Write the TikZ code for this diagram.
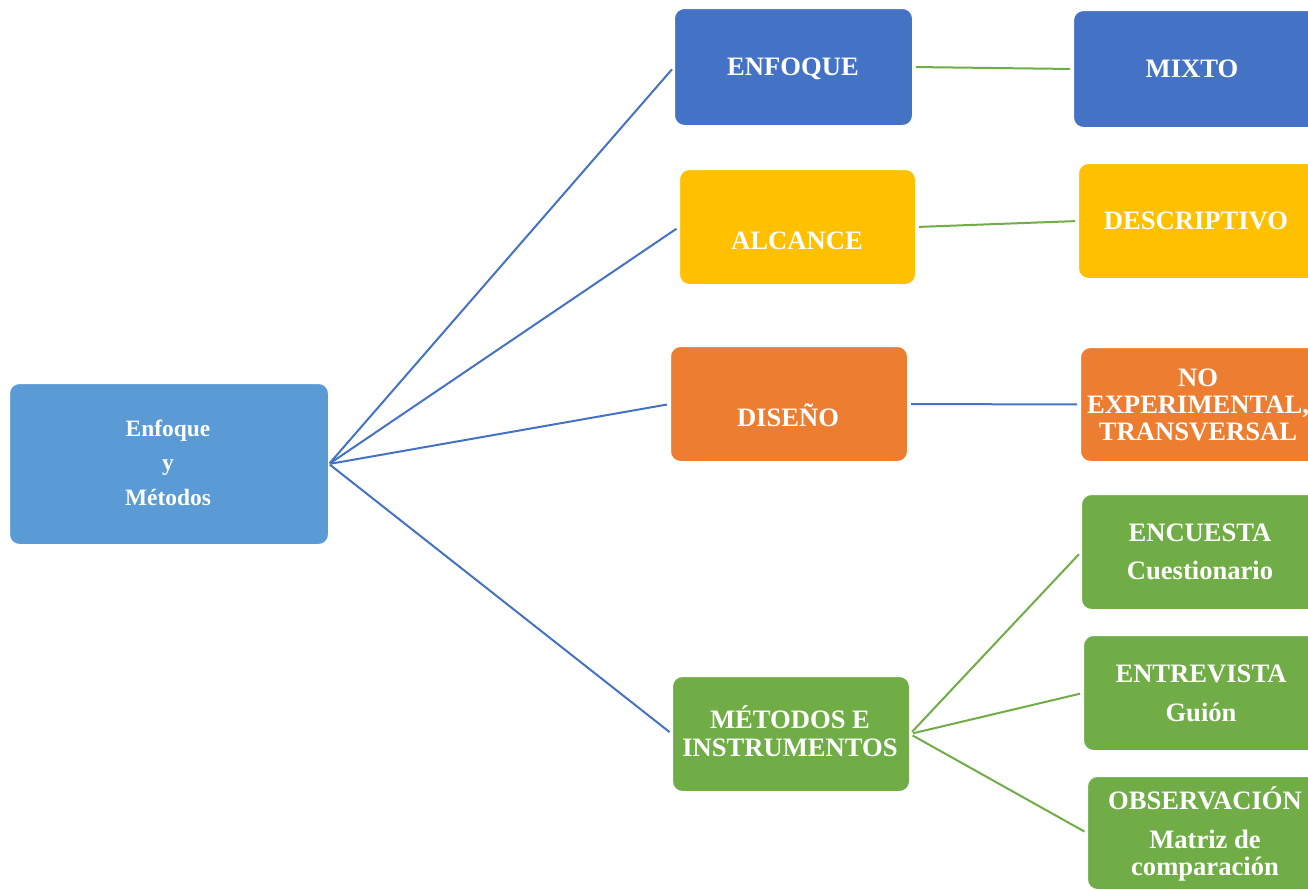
\documentclass[tikz,border=0pt]{standalone}
\usepackage{fontspec}
\setmainfont{Liberation Serif}
\definecolor{cblue}{HTML}{4472C4}
\definecolor{clight}{HTML}{5B9BD5}
\definecolor{cyellow}{HTML}{FFC000}
\definecolor{corange}{HTML}{ED7D31}
\definecolor{cgreen}{HTML}{70AD47}
\tikzset{
  box/.style={anchor=north west, inner sep=0pt, rounded corners=10pt,
              draw=white, line width=1pt, fill=#1},
  lbl/.style={anchor=base, text=white, inner sep=0pt,
              font=\bfseries\fontsize{26.6}{28}\selectfont},
  small/.style={lbl, font=\bfseries\fontsize{23.4}{26}\selectfont},
  link/.style={line width=2pt, #1, shorten <=3pt, shorten >=3pt},
}
\begin{document}
\begin{tikzpicture}[x=1pt, y=-1pt]
\useasboundingbox (0,0) rectangle (1308,889);
\clip (0,0) rectangle (1308,889);
\fill[white] (0,0) rectangle (1308,889);

% boxes
\node[box=clight, minimum width=319pt, minimum height=161pt] (root) at (9,383) {};
\node[box=cblue, minimum width=238pt, minimum height=117pt] (enfoque) at (674,8) {};
\node[box=cblue, minimum width=250pt, minimum height=117pt] (mixto) at (1073,10) {};
\node[box=cyellow, minimum width=236pt, minimum height=115pt] (alcance) at (679,169) {};
\node[box=cyellow, minimum width=250pt, minimum height=115pt] (descriptivo) at (1078,163) {};
\node[box=corange, minimum width=237pt, minimum height=115pt] (diseno) at (670,346) {};
\node[box=corange, minimum width=250pt, minimum height=114pt] (noexp) at (1080,347) {};
\node[box=cgreen, minimum width=237pt, minimum height=115pt] (metodos) at (672,676) {};
\node[box=cgreen, minimum width=250pt, minimum height=115pt] (encuesta) at (1081,494) {};
\node[box=cgreen, minimum width=250pt, minimum height=115pt] (entrevista) at (1083,635) {};
\node[box=cgreen, minimum width=250pt, minimum height=113pt] (observacion) at (1087,776) {};

% labels
\node[small] (t-root1) at (168,436) {Enfoque};
\node[small] (t-root2) at (168,470) {y};
\node[small] (t-root3) at (168,505) {Métodos};
\node[lbl] (t-enfoque) at (793,75) {ENFOQUE};
\node[lbl] (t-mixto) at (1192,77) {MIXTO};
\node[lbl] (t-alcance) at (797,249) {ALCANCE};
\node[lbl] (t-descriptivo) at (1196,229) {DESCRIPTIVO};
\node[lbl] (t-diseno) at (788,426) {DISEÑO};
\node[lbl] (t-no1) at (1198,386) {NO};
\node[lbl] (t-no2) at (1198,413) {EXPERIMENTAL,};
\node[lbl] (t-no3) at (1198,440) {TRANSVERSAL};
\node[lbl] (t-met1) at (790,728) {MÉTODOS E};
\node[lbl] (t-met2) at (790,756) {INSTRUMENTOS};
\node[lbl] (t-enc1) at (1200,541) {ENCUESTA};
\node[lbl] (t-enc2) at (1200,579) {Cuestionario};
\node[lbl] (t-ent1) at (1201,682) {ENTREVISTA};
\node[lbl] (t-ent2) at (1201,721) {Guión};
\node[lbl] (t-obs1) at (1205,809) {OBSERVACIÓN};
\node[lbl] (t-obs2) at (1205,848) {Matriz de};
\node[lbl] (t-obs3) at (1205,875) {comparación};

% connectors from the root
\draw[link=cblue, shorten <=1pt] (root.east) -- (enfoque.west);
\draw[link=cblue, shorten <=1pt] (root.east) -- (alcance.west);
\draw[link=cblue, shorten <=1pt] (root.east) -- (diseno.west);
\draw[link=cblue, shorten <=1pt] (root.east) -- (metodos.west);

% second level
\draw[link=cgreen] (enfoque.east) -- (mixto.west);
\draw[link=cgreen] (alcance.east) -- (descriptivo.west);
\draw[link=cblue] (diseno.east) -- (noexp.west);
\draw[link=cgreen] (metodos.east) -- (encuesta.west);
\draw[link=cgreen] (metodos.east) -- (entrevista.west);
\draw[link=cgreen] (metodos.east) -- (observacion.west);
\end{tikzpicture}
\end{document}
